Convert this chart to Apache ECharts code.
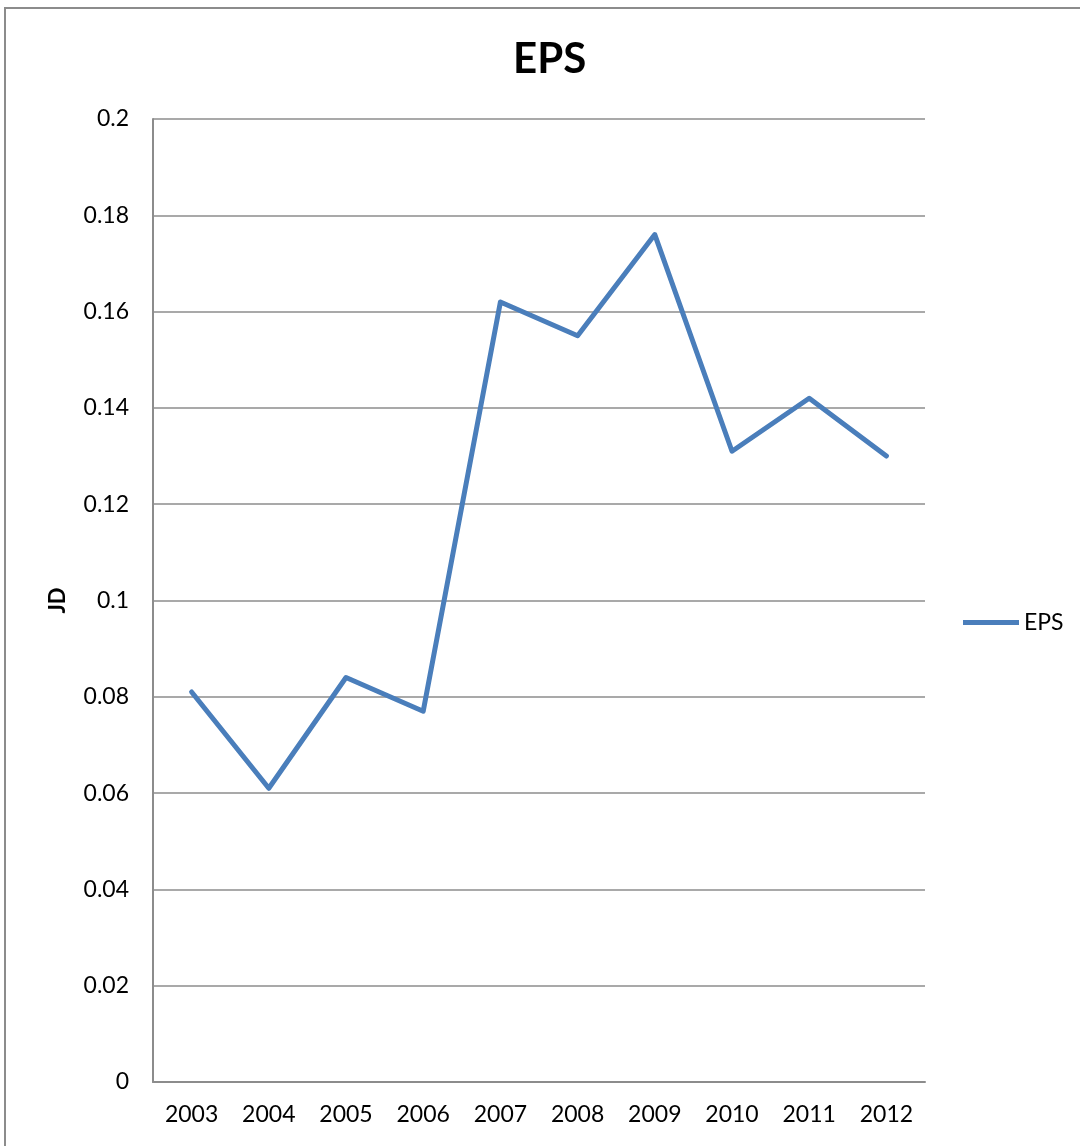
<!DOCTYPE html>
<html>
<head>
<meta charset="utf-8">
<script src="https://cdn.jsdelivr.net/npm/echarts@6/dist/echarts.min.js"></script>
<style>
  html, body { margin: 0; padding: 0; background: #fff; overflow: hidden; }
  #frame { position: absolute; left: 4px; top: 7px; width: 1200px; height: 1300px;
           border-left: 2px solid #8c8c8c; border-top: 2px solid #8c8c8c; box-sizing: border-box; }
  #chart { position: absolute; left: 0; top: 0; width: 1080px; height: 1146px; }
</style>
</head>
<body>
<div id="frame"></div>
<div id="chart"></div>
<script>
// Earnings per share by year (JD)
const years = ['2003', '2004', '2005', '2006', '2007', '2008', '2009', '2010', '2011', '2012'];
const eps = [0.081, 0.061, 0.084, 0.077, 0.162, 0.155, 0.176, 0.131, 0.142, 0.130];
const yTicks = { min: 0, max: 0.2, interval: 0.02 };

const font = 'Lato, "Open Sans", sans-serif';
const chart = echarts.init(document.getElementById('chart'));
chart.setOption({
  animation: false,
  title: {
    text: 'EPS', left: 508, top: 33,
    textStyle: { fontFamily: font, fontWeight: 'bold', fontSize: 42, color: '#000' }
  },
  legend: {
    data: ['EPS'], left: 958, top: 606, itemWidth: 56, itemHeight: 14, itemGap: 3,
    icon: 'path://M0,4.5 L56,4.5 L56,9.5 L0,9.5 Z',
    textStyle: { fontFamily: font, fontSize: 23, color: '#000' }
  },
  grid: { left: 153, right: 155, top: 119, bottom: 64, containLabel: false },
  xAxis: {
    type: 'category', data: years, boundaryGap: true,
    axisLine: { lineStyle: { color: '#8c8c8c', width: 2 } },
    axisTick: { show: false },
    axisLabel: { fontFamily: font, fontSize: 23, color: '#000', margin: 21 }
  },
  yAxis: {
    type: 'value', min: yTicks.min, max: yTicks.max, interval: yTicks.interval,
    name: 'JD', nameLocation: 'middle', nameGap: 84, nameRotate: 90,
    nameTextStyle: { fontFamily: font, fontWeight: 'bold', fontSize: 22, color: '#000' },
    axisLine: { show: true, lineStyle: { color: '#8c8c8c', width: 2 } },
    axisTick: { show: false },
    splitLine: { lineStyle: { color: '#8c8c8c', width: 1.5 } },
    axisLabel: { fontFamily: font, fontSize: 23, color: '#000', margin: 24,
                 formatter: v => String(parseFloat(v.toFixed(2))) }
  },
  series: [{
    name: 'EPS', type: 'line', data: eps, symbol: 'none',
    lineStyle: { color: '#4a7ebb', width: 5, cap: 'round', join: 'round' },
    itemStyle: { color: '#4a7ebb' }
  }]
});
</script>
</body>
</html>
